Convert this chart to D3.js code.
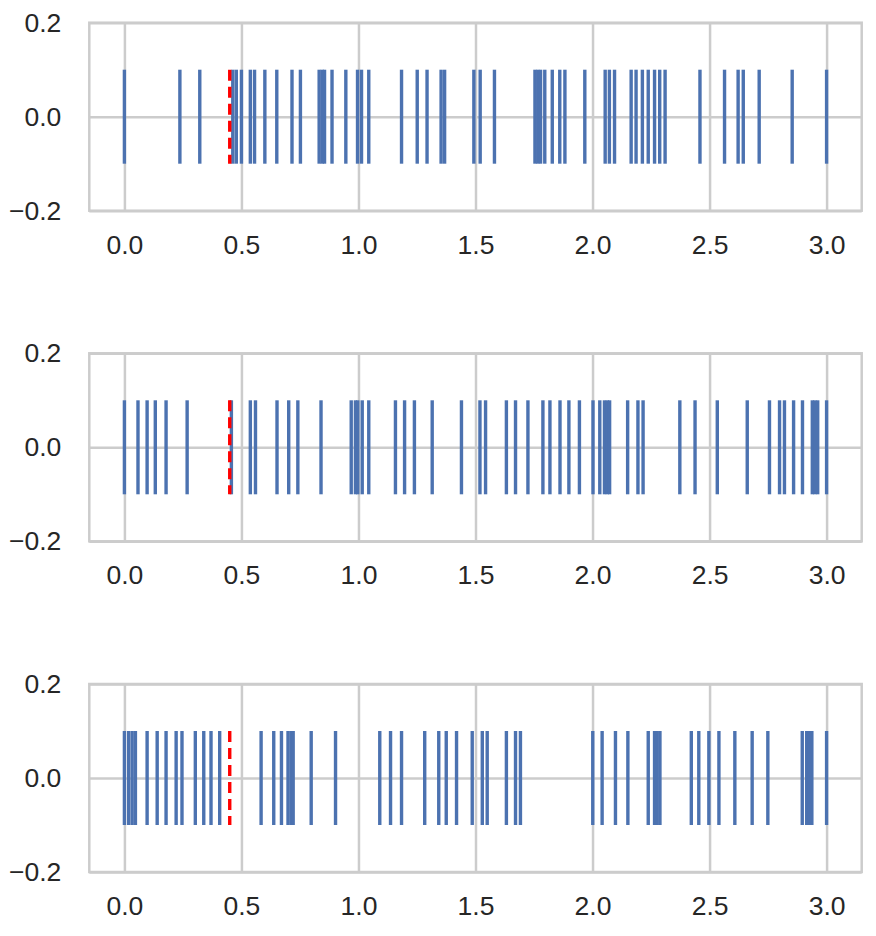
<!DOCTYPE html>
<html>
<head>
<meta charset="utf-8">
<script src="https://cdn.jsdelivr.net/npm/d3@7"></script>
<style>
  body { margin: 0; background: white; }
  text { font-family: "Liberation Sans", Arial, sans-serif; }
</style>
</head>
<body>
<div id="plot"></div>
<script>
// event positions, one array per panel
const events1 = [0.0, 0.237, 0.322, 0.463, 0.478, 0.500, 0.538, 0.556, 0.600, 0.651,
  0.716, 0.752, 0.832, 0.845, 0.855, 0.887, 0.946, 0.996, 1.013, 1.044, 1.184,
  1.251, 1.293, 1.353, 1.368, 1.493, 1.520, 1.581, 1.754, 1.766, 1.778, 1.796,
  1.828, 1.860, 1.882, 1.967, 2.054, 2.072, 2.094, 2.165, 2.186, 2.213, 2.238,
  2.265, 2.287, 2.310, 2.459, 2.564, 2.622, 2.644, 2.712, 2.853, 3.0];
const events2 = [0.0, 0.058, 0.097, 0.132, 0.178, 0.268, 0.457, 0.538, 0.560, 0.652,
  0.702, 0.741, 0.840, 0.969, 0.987, 0.997, 1.016, 1.044, 1.158, 1.197, 1.239,
  1.315, 1.440, 1.519, 1.543, 1.632, 1.671, 1.724, 1.788, 1.818, 1.861, 1.899,
  1.944, 2.002, 2.031, 2.051, 2.063, 2.073, 2.150, 2.194, 2.216, 2.373, 2.438,
  2.533, 2.661, 2.756, 2.799, 2.820, 2.859, 2.897, 2.939, 2.950, 2.962, 3.0];
const events3 = [0.0, 0.018, 0.033, 0.047, 0.097, 0.140, 0.178, 0.221, 0.246, 0.303,
  0.339, 0.370, 0.407, 0.584, 0.638, 0.671, 0.699, 0.712, 0.721, 0.798, 0.902,
  1.091, 1.137, 1.184, 1.283, 1.343, 1.375, 1.419, 1.486, 1.529, 1.550, 1.632,
  1.671, 1.692, 2.001, 2.041, 2.098, 2.151, 2.238, 2.265, 2.276, 2.288, 2.422,
  2.454, 2.497, 2.540, 2.608, 2.682, 2.749, 2.896, 2.915, 2.926, 2.937, 3.0];
const panels = [events1, events2, events3];
const markerX = 0.45;

const xTicks = [0.0, 0.5, 1.0, 1.5, 2.0, 2.5, 3.0];
const yTicks = [-0.2, 0.0, 0.2];

const w = 876;
const h = 936;
const left = 89.3, right = 861.7;
const panelTops = [22.7, 353.3, 684];
const panelH = 188;
const gray = "#cccccc";
const textColor = "#262626";

const svg = d3.select("div#plot")
  .append("svg")
  .attr("width", w)
  .attr("height", h);

svg.append("rect")
  .attr("width", w)
  .attr("height", h)
  .attr("fill", "white");

const x = d3.scaleLinear().domain([-0.15, 3.15]).range([0, right - left]);
const y = d3.scaleLinear().domain([-0.2, 0.2]).range([panelH, 0]);

panels.forEach((events, i) => {
  const g = svg.append("g")
    .attr("transform", `translate(${left},${panelTops[i]})`);

  // grid lines
  g.append("g")
    .attr("class", "grid")
    .attr("transform", `translate(0,${panelH})`)
    .call(d3.axisBottom(x).tickValues(xTicks).tickSize(-panelH).tickFormat(""))
    .call(a => a.select(".domain").remove());
  g.append("g")
    .attr("class", "grid")
    .call(d3.axisLeft(y).tickValues(yTicks).tickSize(-(right - left)).tickFormat(""))
    .call(a => a.select(".domain").remove());
  g.selectAll(".grid line")
    .attr("stroke", gray)
    .attr("stroke-width", 2.5);

  // frame
  g.append("rect")
    .attr("width", right - left)
    .attr("height", panelH)
    .attr("fill", "none")
    .attr("stroke", gray)
    .attr("stroke-width", 2.5);

  // tick labels
  g.append("g")
    .attr("transform", `translate(0,${panelH})`)
    .call(d3.axisBottom(x).tickValues(xTicks).tickSize(0).tickPadding(24).tickFormat(d3.format(".1f")))
    .call(a => a.select(".domain").remove());
  g.append("g")
    .call(d3.axisLeft(y).tickValues(yTicks).tickSize(0).tickPadding(28)
      .tickFormat(d => d3.format(".1f")(d).replace("-", "\u2212")))
    .call(a => a.select(".domain").remove());
  g.selectAll("text")
    .attr("fill", textColor)
    .style("font-size", "26.5px");

  // events
  g.selectAll(".event")
    .data(events)
    .enter()
    .append("line")
    .attr("class", "event")
    .attr("x1", d => x(d))
    .attr("x2", d => x(d))
    .attr("y1", y(0.1))
    .attr("y2", y(-0.1))
    .attr("stroke", "#4c72b0")
    .attr("stroke-width", 3.4);

  // red dashed marker
  g.append("line")
    .attr("x1", x(markerX))
    .attr("x2", x(markerX))
    .attr("y1", y(0.1))
    .attr("y2", y(-0.1))
    .attr("stroke", "red")
    .attr("stroke-width", 3.4)
    .attr("stroke-dasharray", "11,6");
});
</script>
</body>
</html>
